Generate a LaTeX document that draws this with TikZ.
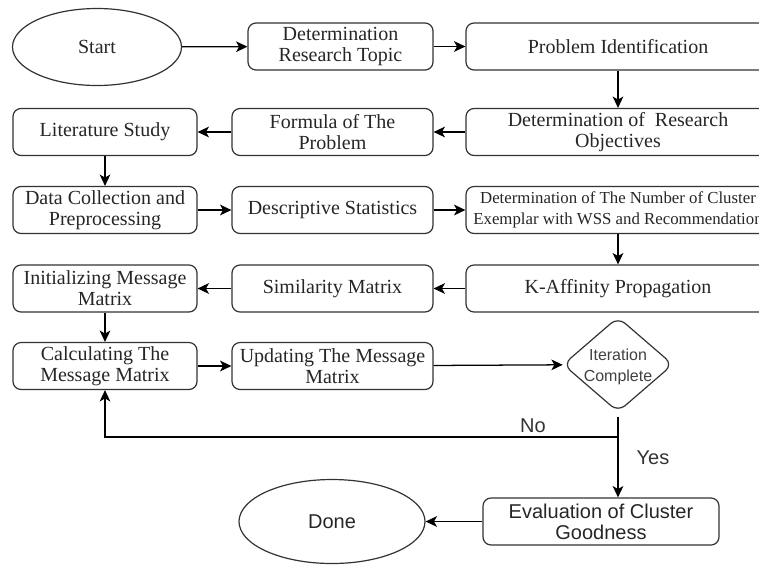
\documentclass[tikz,border=0pt]{standalone}
\usepackage{fontspec}
\setmainfont{Liberation Serif}
\newfontfamily\arialf{Liberation Sans}
\usetikzlibrary{shapes.geometric,arrows.meta}
\begin{document}
\begin{tikzpicture}[x=0.75pt,y=-0.75pt,
  box/.style={draw=black!80, line width=0.9pt, rounded corners=6pt, align=center, inner sep=0pt,
    text=black!85, font=\fontsize{15}{15.75}\selectfont, minimum height=35.25pt},
  lcol/.style={box, minimum width=138pt},
  mcol/.style={box, minimum width=150.75pt},
  rcol/.style={box, minimum width=228pt},
  oval/.style={ellipse, draw=black!80, line width=0.9pt, inner sep=0pt, text=black!85},
  arr/.style={-{Stealth[length=8.5pt,width=8pt,inset=2.2pt]}, line width=0.95pt, draw=black},
  lbl/.style={font=\arialf\fontsize{15}{15}\selectfont, text=black!80}
]
\useasboundingbox (0,0) rectangle (759,565);

% row 1
\node[oval, minimum width=126.75pt, minimum height=57.75pt, font=\fontsize{15}{15}\selectfont] (start) at (97,47) {Start};
\node[box, minimum width=138.75pt] (topic) at (340.5,46.5) {Determination\\Research Topic};
\node[rcol] (probid) at (618,46.5) {Problem Identification};
% row 2
\node[rcol] (obj) at (618,132) {Determination of~~Research\\Objectives};
\node[mcol] (formula) at (332.5,132) {Formula of The\\Problem};
\node[lcol] (lit) at (105,132) {Literature Study};
% row 3
\node[lcol] (data) at (105,210) {Data Collection and\\Preprocessing};
\node[mcol] (desc) at (332.5,210) {Descriptive Statistics};
\node[rcol, font=\fontsize{12.6}{15.5}\selectfont] (num) at (618,210) {Determination of The Number of Cluster\\Exemplar with WSS and Recommendation};
% row 4
\node[rcol] (kap) at (618,288.5) {K-Affinity Propagation};
\node[mcol] (sim) at (332.5,288.5) {Similarity Matrix};
\node[lcol] (init) at (105,288.5) {Initializing Message\\Matrix};
% row 5
\node[lcol] (calc) at (105,366) {Calculating The\\Message Matrix};
\node[mcol] (upd) at (332.5,366) {Updating The Message\\Matrix};
\node[diamond, draw=black!80, line width=0.9pt, rounded corners=7pt, inner sep=0pt,
  minimum width=82.5pt, minimum height=71.25pt] (iter) at (618,364.5) {};
\node[font=\arialf\fontsize{12}{16}\selectfont, text=black!75, align=center] (itertext) at (618,367) {Iteration\\Complete};
% bottom
\node[box, font=\arialf\fontsize{15}{15.75}\selectfont, minimum width=177pt] (eval) at (601,521.5) {Evaluation of Cluster\\Goodness};
\node[oval, minimum width=139.5pt, minimum height=63pt, font=\arialf\fontsize{15}{15}\selectfont] (done) at (332,521.5) {Done};

\coordinate (j) at (618,437);

% connectors
\draw[arr] (start) -- (topic);
\draw[arr] (topic) -- (probid);
\draw[arr] (probid) -- (obj);
\draw[arr] (obj) -- (formula);
\draw[arr] (formula) -- (lit);
\draw[arr] (lit) -- (data);
\draw[arr] (data) -- (desc);
\draw[arr] (desc) -- (num);
\draw[arr] (num) -- (kap);
\draw[arr] (kap) -- (sim);
\draw[arr] (sim) -- (init);
\draw[arr] (init) -- (calc);
\draw[arr] (calc) -- (upd);
\draw[arr] (upd) -- (iter);
\draw[arr, shorten <=3pt] (iter.south) -- (iter.south |- eval.north);
\draw[arr] (j) -| (calc.south);
\draw[arr] (eval) -- (done);

\node[lbl] (no) at (533,426) {No};
\node[lbl] (yes) at (653,458) {Yes};
\end{tikzpicture}
\end{document}
